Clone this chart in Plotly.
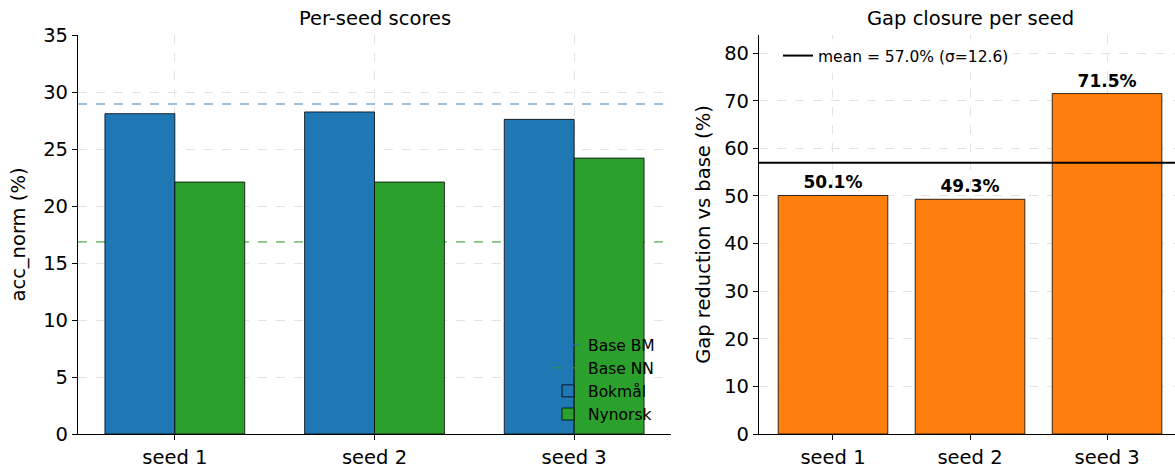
import numpy as np
import plotly.graph_objects as go

seeds = ["seed 1", "seed 2", "seed 3"]
bokmaal = [28.1, 28.25, 27.6]
nynorsk = [22.1, 22.1, 24.2]
base_bm = 28.95
base_nn = 16.85
gap_closure = [50.1, 49.3, 71.5]

mean_gap = float(np.mean(gap_closure))
std_gap = float(np.std(gap_closure, ddof=1))
xpos = list(range(len(seeds)))

FONT = "DejaVu Sans"
W, H = 1175, 470
MT, MB = 35, 36
FS = 19.5

fig = go.Figure()

fig.add_trace(go.Bar(
    x=xpos, y=bokmaal, name="Bokmål", width=0.35, offset=-0.35,
    marker=dict(color="#1f77b4", line=dict(color="black", width=0.8)),
    xaxis="x", yaxis="y", legend="legend", legendrank=3,
))
fig.add_trace(go.Bar(
    x=xpos, y=nynorsk, name="Nynorsk", width=0.35, offset=0,
    marker=dict(color="#2ca02c", line=dict(color="black", width=0.8)),
    xaxis="x", yaxis="y", legend="legend", legendrank=4,
))
fig.add_trace(go.Bar(
    x=xpos, y=gap_closure, width=0.8, showlegend=False,
    marker=dict(color="#ff7f0e", line=dict(color="black", width=0.8)),
    text=[f"{v:.1f}%" for v in gap_closure], textposition="outside",
    constraintext="none", cliponaxis=False,
    textfont=dict(family=FONT, size=17, color="black", weight="bold"),
    xaxis="x2", yaxis="y2",
))

fig.add_shape(type="line", xref="x domain", yref="y", x0=0, x1=1, y0=base_bm, y1=base_bm,
              line=dict(color="rgba(31,119,180,0.6)", width=1.6, dash="dash"), layer="below",
              name="Base BM", showlegend=True, legend="legend", legendrank=1)
fig.add_shape(type="line", xref="x domain", yref="y", x0=0, x1=1, y0=base_nn, y1=base_nn,
              line=dict(color="rgba(44,160,44,0.6)", width=1.6, dash="dash"), layer="below",
              name="Base NN", showlegend=True, legend="legend", legendrank=2)
fig.add_shape(type="line", xref="x2 domain", yref="y2", x0=0, x1=1, y0=mean_gap, y1=mean_gap,
              line=dict(color="black", width=2), layer="above",
              name=f"mean = {mean_gap:.1f}% (σ={std_gap:.1f})", showlegend=True, legend="legend2")

axis_common = dict(
    showline=True, linecolor="black", linewidth=1.2, mirror=False,
    ticks="outside", ticklen=5, tickwidth=1.2, tickcolor="black",
    showgrid=True, gridcolor="#e3e3e3", griddash="dash", gridwidth=1,
    zeroline=False, tickfont=dict(family=FONT, size=FS, color="black"),
)

fig.update_layout(
    width=W, height=H,
    margin=dict(l=0, r=0, t=MT, b=MB),
    paper_bgcolor="white", plot_bgcolor="white",
    barmode="overlay",
    font=dict(family=FONT, color="black"),
    xaxis=dict(domain=[78 / W, 671 / W], range=[-0.485, 2.485],
               tickvals=xpos, ticktext=seeds, anchor="y", **axis_common),
    yaxis=dict(range=[0, 35], dtick=5, anchor="x",
               title=dict(text="acc_norm (%)", font=dict(family=FONT, size=FS, color="black"), standoff=12),
               **axis_common),
    xaxis2=dict(domain=[759 / W, 1.0], range=[-0.54, 2.496],
                tickvals=xpos, ticktext=seeds, anchor="y2", **axis_common),
    yaxis2=dict(range=[0, 83.8], dtick=10, anchor="x2",
                title=dict(text="Gap reduction vs base (%)", font=dict(family=FONT, size=FS, color="black"), standoff=8),
                **axis_common),
    legend=dict(x=548 / W, xanchor="left", xref="paper",
                y=(H - MB - 328) / (H - MT - MB), yanchor="top",
                bgcolor="rgba(0,0,0,0)", borderwidth=0,
                font=dict(family=FONT, size=15.5, color="black"),
                traceorder="normal", tracegroupgap=0),
    legend2=dict(x=778 / W, xanchor="left", xref="paper",
                 y=(H - MB - 39) / (H - MT - MB), yanchor="top",
                 bgcolor="rgba(255,255,255,0.8)", borderwidth=0,
                 font=dict(family=FONT, size=15.5, color="black")),
    annotations=[
        dict(text="Per-seed scores", x=1, xref="x", y=1 + (MT - 18) / (H - MT - MB), yref="paper",
             showarrow=False, xanchor="center", yanchor="middle",
             font=dict(family=FONT, size=FS, color="black")),
        dict(text="Gap closure per seed", x=1, xref="x2", y=1 + (MT - 18) / (H - MT - MB), yref="paper",
             showarrow=False, xanchor="center", yanchor="middle",
             font=dict(family=FONT, size=FS, color="black")),
    ],
)

fig.write_html("out.html", config={"displayModeBar": False},
               post_script="document.body.style.margin='0';")
